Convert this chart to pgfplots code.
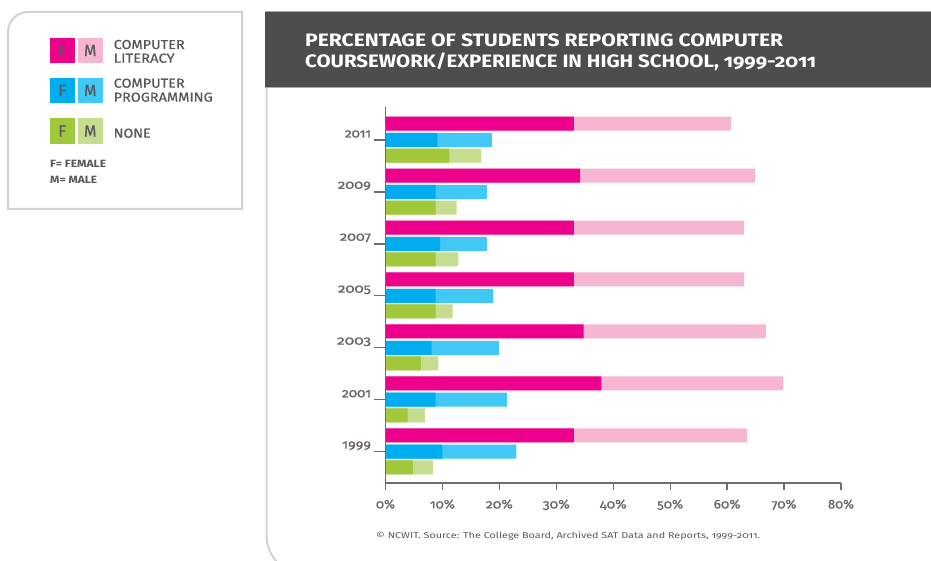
\documentclass[border=0pt]{standalone}
\usepackage{pgfplots}
\pgfplotsset{compat=1.18}
\usepackage{pgfplotstable}
\usepackage{graphicx}
\usepackage{fontspec}
\setmainfont{Fira Sans}[Numbers=OldStyle]
\newfontfamily\medfont{Fira Sans}[Numbers=OldStyle, FakeBold=0.6]

\definecolor{litF}{HTML}{EC008C}
\definecolor{litM}{HTML}{F6B6D2}
\definecolor{progF}{HTML}{00AEEF}
\definecolor{progM}{HTML}{42C8F4}
\definecolor{noneF}{HTML}{A0C83A}
\definecolor{noneM}{HTML}{C6DD8F}
\definecolor{axisgray}{HTML}{6D6E71}
\definecolor{ticktxt}{HTML}{6A6360}
\definecolor{txtgray}{HTML}{58595B}
\definecolor{titlebg}{HTML}{4D4D4F}
\definecolor{titleedge}{HTML}{A7A9AC}
\definecolor{framegray}{HTML}{D1D2D4}

% F = female share, M = male share (drawn after the female segment)
\pgfplotstableread{
idx year litF litM progF progM noneF noneM
6 2011 33.1 27.6  9.1  9.6 11.2 5.6
5 2009 34.2 30.7  8.8  9.0  8.8 3.7
4 2007 33.1 29.9  9.6  8.2  8.8 4.0
3 2005 33.1 29.9  8.8 10.1  8.8 3.0
2 2003 34.8 32.0  8.1 11.8  6.2 3.1
1 2001 37.9 32.0  8.8 12.5  3.9 3.0
0 1999 33.1 30.4 10.0 13.0  4.8 3.5
}\datatable

\newcommand{\fitw}[2]{\resizebox{#1pt}{\height}{#2}}

\begin{document}
\begin{tikzpicture}[x=1pt,y=1pt]
\useasboundingbox (0,0) rectangle (931,560);
\fill[white] (0,0) rectangle (931,560);

% ---- key panel ----
\draw[framegray, line width=2pt] (8,351) -- (8,528) arc[start angle=180,end angle=90,radius=20] -- (242,548) -- (242,351) -- cycle;

\fill[litF]  (50,497) rectangle (74.5,522);
\fill[litM]  (78,497) rectangle (102.5,522);
\fill[progF] (50,457) rectangle (74.5,482);
\fill[progM] (78,457) rectangle (102.5,482);
\fill[noneF] (50,416) rectangle (74.5,442);
\fill[noneM] (78,416) rectangle (102.5,442);
\foreach \yy in {509.5,469.5,429} {
  \node[text=txtgray, font=\medfont\fontsize{16}{16}\selectfont] at (62.25,\yy) {F};
  \node[text=txtgray, font=\medfont\fontsize{16}{16}\selectfont] at (90.25,\yy) {M};
}
\begin{scope}[every node/.style={anchor=base west, inner sep=0pt, text=txtgray, font=\medfont\fontsize{13}{13}\selectfont}]
\node at (113.5,511)   {\fitw{71}{COMPUTER}};
\node at (113.5,497.3) {\fitw{61}{LITERACY}};
\node at (113.5,472.3) {\fitw{71}{COMPUTER}};
\node at (113.5,458.3) {\fitw{99}{PROGRAMMING}};
\node at (113.5,422.3) {\fitw{37}{NONE}};
\end{scope}
\begin{scope}[every node/.style={anchor=base west, inner sep=0pt, text=txtgray, font=\bfseries\fontsize{10.5}{10.5}\selectfont}]
\node at (50,392.3) {\fitw{56}{F= FEMALE}};
\node at (50,376)   {\fitw{47}{M= MALE}};
\end{scope}

% ---- chart panel ----
\fill[titlebg] (265,472) rectangle (931,548);
\draw[titleedge, line width=1pt] (265,548) -- (931,548);
\draw[titleedge, line width=1pt] (265,472) -- (931,472);
\draw[framegray, line width=2pt] (266.5,472) -- (266.5,25) arc[start angle=180,end angle=270,radius=40];

\begin{scope}[every node/.style={anchor=base west, inner sep=0pt, text=white, font=\bfseries\fontsize{18}{18}\selectfont}]
\node at (305,513.3) {\fitw{478}{PERCENTAGE OF STUDENTS REPORTING COMPUTER}};
\node at (305,492.7) {\fitw{511}{COURSEWORK/EXPERIENCE IN HIGH SCHOOL, 1999-2011}};
\end{scope}

\node[anchor=base west, inner sep=0pt, text=txtgray, font=\fontsize{8.5}{8.5}\selectfont] at (376,22)
  {\fitw{384}{© NCWIT. Source: The College Board, Archived SAT Data and Reports, 1999-2011.}};

\begin{axis}[
  at={(385.5pt,77pt)}, anchor=south west,
  scale only axis, width=455.5pt, height=376pt,
  xmin=0, xmax=80, ymin=-0.6025, ymax=6.635,
  axis x line*=bottom, axis y line*=left,
  axis line style={axisgray, line width=1.3pt},
  tick pos=left, tick align=outside,
  major tick length=7pt,
  tick style={axisgray, line width=1.3pt},
  ytick style={/pgfplots/major tick length=12pt},
  xtick={0,10,...,80},
  xticklabels={\fitw{19}{0\%},\fitw{25}{10\%},\fitw{27}{20\%},\fitw{27}{30\%},\fitw{27}{40\%},\fitw{26}{50\%},\fitw{27}{60\%},\fitw{25}{70\%},\fitw{26}{80\%}},
  ytick={0,...,6},
  yticklabels={\fitw{29}{1999},\fitw{29}{2001},\fitw{34}{2003},\fitw{33}{2005},\fitw{31}{2007},\fitw{33}{2009},\fitw{26}{2011}},
  ticklabel style={text=ticktxt, font=\medfont\fontsize{12.5}{12.5}\selectfont},
  xticklabel style={yshift=-6pt},
  yticklabel style={yshift=6pt, xshift=-4pt},
  axis on top, clip=false,
  xbar, bar width=14pt, bar shift=0pt,
  every axis plot/.append style={draw=none},
]
\addplot[fill=litM]  table[x expr=\thisrow{litF}+\thisrow{litM},   y expr=\thisrow{idx}+0.315]{\datatable};
\addplot[fill=litF]  table[x=litF,  y expr=\thisrow{idx}+0.315]{\datatable};
\addplot[fill=progM] table[x expr=\thisrow{progF}+\thisrow{progM}, y=idx]{\datatable};
\addplot[fill=progF] table[x=progF, y=idx]{\datatable};
\addplot[fill=noneM] table[x expr=\thisrow{noneF}+\thisrow{noneM}, y expr=\thisrow{idx}-0.30]{\datatable};
\addplot[fill=noneF] table[x=noneF, y expr=\thisrow{idx}-0.30]{\datatable};
\end{axis}
\end{tikzpicture}
\end{document}
